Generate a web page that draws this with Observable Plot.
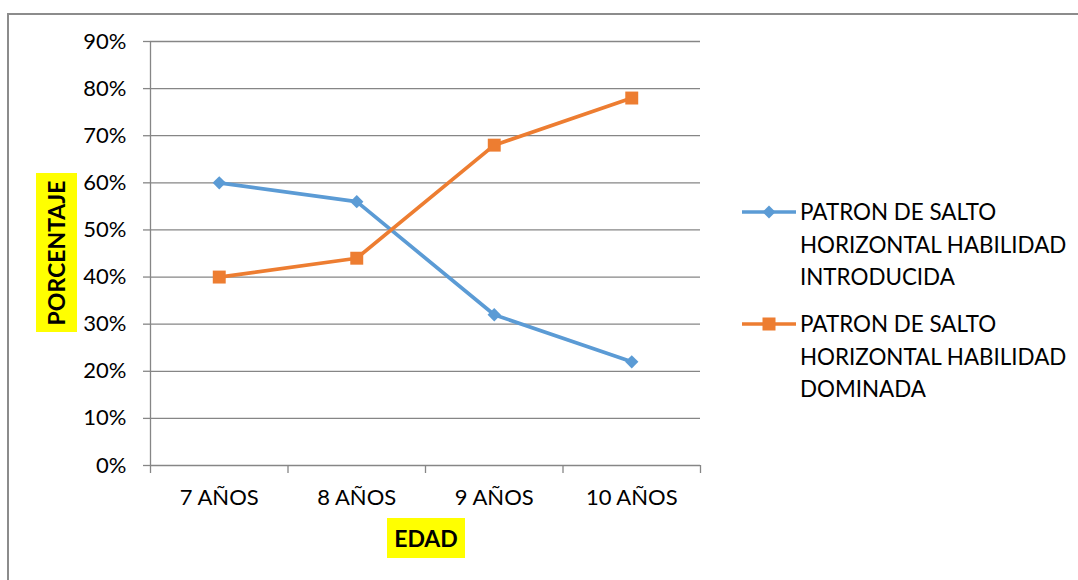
<!DOCTYPE html>
<html>
<head>
<meta charset="utf-8">
<script src="https://cdn.jsdelivr.net/npm/d3@7"></script>
<script src="https://cdn.jsdelivr.net/npm/@observablehq/plot@0.6"></script>
<style>
  html, body { margin: 0; padding: 0; background: #fff; }
  #wrap { position: relative; width: 1078px; height: 580px; overflow: hidden; font-family: Lato, "Open Sans", sans-serif; }
  #frame { position: absolute; left: 7px; top: 13px; right: -4px; bottom: -4px; border-left: 2px solid #8c8c8c; border-top: 2px solid #8c8c8c; }
  #chart { position: absolute; left: 0; top: 0; }
  .tag { position: absolute; background: #ffff00; color: #000; font-weight: bold; font-size: 23px; display: flex; align-items: center; justify-content: center; }
  #ytitle { left: 36px; top: 173px; width: 41px; height: 159px; }
  #ytitle span { transform: rotate(-90deg); white-space: nowrap; display: block; }
  #xtitle { left: 387px; top: 518px; width: 78px; height: 40px; }
  .legend { position: absolute; left: 742px; font-size: 22.4px; line-height: 32.5px; color: #000; }
  .legend svg { position: absolute; left: 0; top: 9px; }
  .legend div { margin-left: 58px; white-space: nowrap; }
</style>
</head>
<body>
<div id="wrap">
  <div id="frame"></div>
  <div id="chart"></div>
  <div id="ytitle" class="tag"><span>PORCENTAJE</span></div>
  <div id="xtitle" class="tag">EDAD</div>
  <div id="legend"></div>
</div>
<script>
// Age groups along the x axis
const categories = ["7 AÑOS", "8 AÑOS", "9 AÑOS", "10 AÑOS"];
// Share of children per skill level of the horizontal jump
const introducida = [0.60, 0.56, 0.32, 0.22];
const dominada = [0.40, 0.44, 0.68, 0.78];
const seriesNames = [
  ["PATRON DE SALTO", "HORIZONTAL HABILIDAD", "INTRODUCIDA"],
  ["PATRON DE SALTO", "HORIZONTAL HABILIDAD", "DOMINADA"]
];
const yTicks = [0, 0.1, 0.2, 0.3, 0.4, 0.5, 0.6, 0.7, 0.8, 0.9];

const colors = ["#5b9bd5", "#ed7d31"];
const symbols = ["diamond2", "square"];
const radii = [6, 7.3];

// Each category sits in the middle of its own unit-wide slot
const rows = [introducida, dominada].flatMap((vals, s) =>
  vals.map((v, i) => ({ slot: i + 0.5, value: v, series: s }))
);
const bounds = d3.range(categories.length + 1);
const centers = categories.map((_, i) => i + 0.5);

const axisGray = "#868686";

const chart = Plot.plot({
  width: 1078,
  height: 580,
  marginLeft: 150,
  marginRight: 378,
  marginTop: 41,
  marginBottom: 115,
  style: { fontFamily: "Lato, 'Open Sans', sans-serif", fontSize: "22px", color: "#000", background: "transparent", overflow: "visible" },
  x: { domain: [0, categories.length] },
  y: { domain: [0, 0.9] },
  marks: [
    Plot.gridY(yTicks, { stroke: axisGray, strokeOpacity: 1, strokeWidth: 1.3 }),
    Plot.axisY(yTicks, { tickSize: 7, tickPadding: 17, tickFormat: d3.format(".0%"), label: null, stroke: axisGray, strokeWidth: 1.3, fill: "#000" }),
    Plot.ruleX([0], { stroke: axisGray, strokeWidth: 1.3 }),
    Plot.axisX(bounds, { tickSize: 8, tickFormat: () => "", label: null, stroke: axisGray, strokeWidth: 1.3 }),
    Plot.axisX(centers, { tickSize: 0, tickPadding: 24, tickFormat: d => categories[Math.floor(d)], label: null, fill: "#000" }),
    ...[0, 1].map(s => Plot.line(rows.filter(d => d.series === s), { x: "slot", y: "value", stroke: colors[s], strokeWidth: 3.7 })),
    ...[0, 1].map(s => Plot.dot(rows.filter(d => d.series === s), { x: "slot", y: "value", symbol: () => symbols[s], r: radii[s], fill: colors[s], stroke: "none" }))
  ]
});
document.getElementById("chart").append(chart);

// Legend on the right, one entry per series
const legend = document.getElementById("legend");
const tops = [196, 308];
seriesNames.forEach((lines, s) => {
  const box = document.createElement("div");
  box.className = "legend";
  box.style.top = tops[s] + "px";
  const sym = s === 0
    ? `<path d="M27,0.5 L33.5,7 L27,13.5 L20.5,7 Z" fill="${colors[0]}"/>`
    : `<rect x="20.5" y="0.5" width="13" height="13" fill="${colors[1]}"/>`;
  box.innerHTML = `<svg width="56" height="14"><line x1="0" y1="7" x2="54" y2="7" stroke="${colors[s]}" stroke-width="3.7"/>${sym}</svg>` +
    lines.map(t => `<div>${t}</div>`).join("");
  legend.append(box);
});
</script>
</body>
</html>
